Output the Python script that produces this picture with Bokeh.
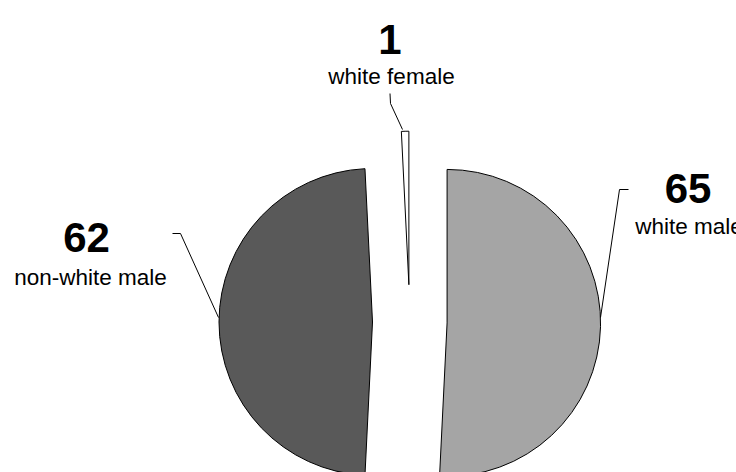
import math
from bokeh.plotting import figure
from bokeh.models import Range1d, ColumnDataSource
from bokeh.core.properties import value
from bokeh.embed import file_html
from bokeh.resources import INLINE

# ---- data ----
categories = ["white male", "non-white male", "white female"]
counts = [65, 62, 1]
colors = ["#a5a5a5", "#595959", "#ffffff"]

# ---- layout (page pixel space, y measured upward: Y = 472 - page_y) ----
W, H = 736, 472
cx, cy = 409.3, 472 - 321.5
R = 153.5
EXPLODE = 37.3

# label anchors (number centre x, number baseline page y, text centre x, text baseline page y)
label_pos = {
    "white male": (687.5, 188, 688.5, 226),
    "non-white male": (86, 237, 90, 277),
    "white female": (389.5, 39, 391, 76),
}
leaders = {
    "white male": [(628, 189), (619, 189), (600, 317)],
    "non-white male": [(172, 233), (180, 233), (218, 317)],
    "white female": [(402, 129), (390, 103), (389.5, 93)],
}

total = sum(counts)
start = math.pi / 2
xs, ys, sa, ea = [], [], [], []
for c in counts:
    span = c / total * 2 * math.pi
    end = start - span
    mid = (start + end) / 2
    xs.append(cx + EXPLODE * math.cos(mid))
    ys.append(cy + EXPLODE * math.sin(mid))
    sa.append(end)
    ea.append(start)
    start = end

src = ColumnDataSource(dict(x=xs, y=ys, start=sa, end=ea, color=colors, cat=categories))

p = figure(width=W, height=H, output_backend="svg", toolbar_location=None,
           x_range=Range1d(0, W), y_range=Range1d(0, H),
           min_border=0, outline_line_color=None)
p.axis.visible = False
p.grid.visible = False
p.background_fill_color = "white"

p.wedge(x="x", y="y", radius=R, start_angle="start", end_angle="end",
        direction="anticlock", fill_color="color", line_color="black",
        line_width=1, source=src)

for cat, cnt in zip(categories, counts):
    nx, nb, tx, tb = label_pos[cat]
    p.text(x=[nx], y=[472 - nb], text=[str(cnt)], text_align="center",
           text_baseline="alphabetic", text_font=value("Liberation Sans"),
           text_font_style="bold", text_font_size="42px", text_color="black")
    p.text(x=[tx], y=[472 - tb], text=[cat], text_align="center",
           text_baseline="alphabetic", text_font=value("Liberation Sans"),
           text_font_size="22.5px", text_color="black")
    pts = leaders[cat]
    p.line(x=[q[0] for q in pts], y=[472 - q[1] for q in pts],
           line_color="black", line_width=1)

open("out.html", "w").write(file_html(p, INLINE))
